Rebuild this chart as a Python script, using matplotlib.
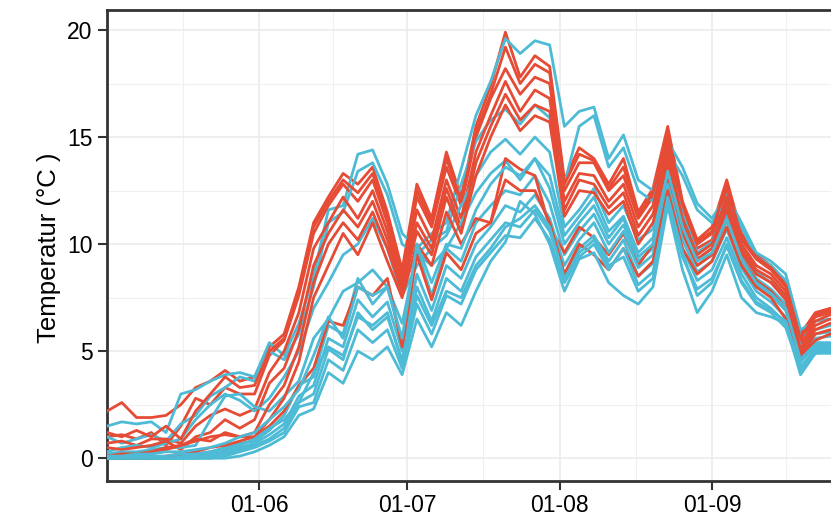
import matplotlib
matplotlib.use("Agg")
import matplotlib.pyplot as plt
import matplotlib.dates as mdates
import numpy as np
import pandas as pd

# one sample every 3 days, starting 1 May
dates = pd.date_range("2019-05-01", periods=51, freq="3D")

# red sites
red_1 = [2.2, 2.6, 1.9, 1.9, 2.0, 2.5, 3.3, 3.6, 4.1, 3.6, 3.8, 5.2, 5.8, 8.0, 11.0, 12.2, 13.3, 12.8, 13.6, 11.5,
         8.8, 12.8, 11.2, 14.3, 12.2, 15.5, 17.4, 19.9, 17.8, 18.8, 18.3, 13.0, 14.5, 14.0, 12.8, 14.0, 11.5, 12.6, 15.5, 12.0,
         10.2, 10.8, 13.0, 10.5, 9.5, 9.0, 8.2, 5.8, 6.8, 7.0, 6.8]
red_2 = [1.0, 1.1, 0.9, 1.2, 0.6, 1.5, 2.8, 2.5, 3.3, 3.0, 3.0, 4.8, 5.5, 7.6, 10.5, 11.8, 12.8, 12.0, 13.0, 11.0,
         8.5, 12.2, 10.8, 13.6, 11.8, 15.0, 16.8, 18.2, 17.0, 17.8, 17.5, 12.5, 13.8, 13.8, 12.5, 13.2, 11.2, 12.2, 15.0, 11.8,
         10.0, 10.5, 12.6, 10.2, 9.3, 8.8, 8.0, 5.5, 6.6, 6.8, 6.6]
red_3 = [0.7, 0.8, 0.6, 0.9, 0.9, 0.7, 1.5, 2.0, 2.3, 2.0, 2.3, 4.0, 5.0, 6.8, 9.8, 11.0, 12.2, 11.2, 12.5, 10.6,
         8.2, 11.6, 10.2, 13.0, 11.2, 14.3, 16.0, 17.6, 16.2, 17.2, 16.8, 12.0, 13.3, 13.2, 12.0, 12.8, 10.8, 11.8, 14.6, 11.5,
         9.8, 10.2, 12.2, 10.0, 9.0, 8.6, 7.8, 5.3, 6.4, 6.7, 6.5]
red_4 = [0.5, 0.4, 0.5, 0.6, 0.8, 0.4, 1.0, 1.2, 1.8, 1.4, 1.8, 3.5, 4.2, 6.0, 9.0, 10.5, 11.6, 10.8, 12.0, 10.2,
         8.0, 11.0, 9.8, 12.6, 10.8, 13.8, 15.5, 17.0, 15.8, 16.5, 16.2, 11.6, 13.0, 12.8, 11.7, 12.4, 10.4, 11.4, 14.2, 11.2,
         9.5, 10.0, 11.9, 9.8, 8.8, 8.4, 7.6, 5.1, 6.2, 6.5, 6.3]
red_5 = [0.1, 0.2, 0.2, 0.3, 0.5, 0.6, 0.9, 0.8, 1.2, 1.0, 1.2, 2.5, 3.4, 5.2, 8.2, 10.0, 11.0, 10.2, 11.5, 9.8,
         7.8, 10.6, 9.5, 12.2, 10.5, 13.2, 15.0, 16.5, 15.3, 16.0, 15.7, 11.3, 12.5, 12.4, 11.4, 12.0, 10.0, 11.0, 13.8, 11.0,
         9.3, 9.8, 11.6, 9.6, 8.6, 8.2, 7.4, 5.0, 6.0, 6.3, 6.1]
red_6 = [0.0, 0.0, 0.1, 0.2, 0.4, 0.6, 0.8, 1.0, 1.1, 1.0, 1.0, 1.8, 2.8, 4.5, 7.5, 9.0, 10.5, 9.5, 11.0, 9.2,
         7.5, 10.0, 9.0, 11.5, 10.0, 11.2, 11.0, 14.0, 13.5, 13.2, 10.8, 9.6, 10.8, 10.3, 9.5, 10.5, 9.0, 10.0, 13.0, 10.5,
         9.0, 9.5, 11.2, 9.3, 8.3, 7.8, 7.0, 4.8, 5.8, 6.0, 5.9]
red_7 = [1.2, 1.0, 1.3, 1.0, 1.5, 0.9, 2.2, 3.0, 3.8, 3.3, 3.4, 5.0, 5.6, 7.8, 10.8, 12.0, 13.0, 12.4, 13.3, 11.2,
         8.6, 12.5, 11.0, 14.0, 12.0, 15.2, 17.0, 19.2, 17.5, 18.4, 18.0, 12.8, 14.2, 13.9, 12.6, 13.6, 11.3, 12.4, 15.2, 11.9,
         10.1, 10.6, 12.8, 10.3, 9.4, 8.9, 8.1, 5.6, 6.7, 6.9, 6.7]
red_8 = [0.0, 0.0, 0.0, 0.0, 0.1, 0.2, 0.3, 0.5, 0.6, 0.8, 1.0, 1.5, 2.2, 3.4, 4.2, 6.4, 6.2, 8.0, 7.6, 8.4,
         5.2, 9.5, 7.4, 9.6, 8.8, 10.5, 11.0, 13.0, 12.5, 12.5, 11.0, 8.6, 10.0, 9.5, 8.8, 9.8, 8.5, 9.2, 12.5, 9.8,
         8.6, 9.2, 10.8, 9.0, 8.0, 7.5, 6.5, 4.8, 5.5, 5.8, 5.7]

# blue sites
blue_1 = [1.5, 1.7, 1.6, 1.7, 1.2, 3.0, 3.2, 3.6, 3.9, 4.0, 3.8, 5.4, 4.8, 6.3, 8.5, 11.6, 11.8, 14.2, 14.4, 12.8,
          10.5, 9.8, 10.5, 11.0, 13.5, 16.0, 17.6, 19.6, 18.9, 19.5, 19.3, 15.5, 16.2, 16.4, 14.0, 15.1, 13.0, 12.5, 14.8, 13.6,
          11.9, 11.2, 12.3, 11.0, 9.6, 9.2, 8.6, 6.0, 6.4, 6.5, 6.4]
blue_2 = [1.0, 0.7, 0.9, 1.1, 0.8, 1.6, 2.0, 2.9, 3.3, 3.8, 3.6, 5.0, 4.6, 5.8, 8.0, 11.0, 11.5, 13.4, 13.8, 12.3,
          10.0, 9.5, 10.2, 10.6, 12.8, 14.8, 15.8, 16.3, 15.6, 16.5, 15.9, 12.8, 15.5, 16.0, 13.6, 14.5, 12.5, 12.0, 14.3, 13.2,
          11.6, 11.0, 12.0, 10.8, 9.4, 9.0, 8.3, 5.7, 6.0, 6.2, 6.0]
blue_3 = [0.3, 0.5, 0.6, 0.5, 0.7, 0.9, 1.8, 2.5, 3.0, 2.7, 2.2, 2.8, 3.8, 5.0, 7.0, 8.2, 9.5, 10.0, 11.2, 9.8,
          7.6, 9.0, 9.8, 10.4, 11.8, 13.2, 14.3, 14.9, 14.2, 15.0, 14.3, 10.8, 11.6, 12.6, 11.0, 11.8, 10.2, 10.7, 14.0, 11.4,
          9.6, 10.1, 11.8, 9.8, 8.7, 8.2, 7.5, 5.2, 5.8, 5.9, 5.8]
blue_4 = [0.2, 0.3, 0.3, 0.4, 0.5, 0.5, 0.6, 1.8, 2.9, 3.0, 2.4, 2.2, 2.9, 3.6, 5.6, 6.5, 7.8, 8.2, 8.8, 8.0,
          6.3, 9.6, 9.0, 9.8, 11.0, 12.4, 13.3, 13.9, 13.0, 14.0, 13.2, 10.4, 11.3, 12.2, 10.6, 11.3, 9.6, 10.3, 13.6, 11.0,
          9.3, 9.8, 11.4, 9.5, 8.4, 7.9, 7.2, 4.9, 5.6, 5.7, 5.6]
blue_5 = [0.0, 0.0, 0.0, 0.0, 0.0, 0.1, 0.2, 0.3, 0.5, 0.7, 0.8, 1.3, 2.0, 3.4, 3.8, 6.2, 5.8, 8.4, 7.2, 8.0,
          5.4, 9.8, 7.6, 9.8, 9.2, 11.0, 11.8, 12.5, 12.3, 13.2, 11.9, 9.5, 10.6, 11.4, 10.0, 10.9, 9.2, 9.8, 13.2, 10.6,
          9.0, 9.5, 11.1, 9.2, 8.1, 7.6, 6.9, 4.7, 5.4, 5.4, 5.3]
blue_6 = [0.0, 0.0, 0.0, 0.0, 0.0, 0.0, 0.1, 0.2, 0.3, 0.5, 0.7, 1.1, 1.6, 2.9, 3.4, 5.6, 5.2, 7.4, 6.6, 7.3,
          5.0, 8.6, 6.9, 9.0, 8.4, 10.0, 10.8, 11.8, 11.5, 12.3, 11.2, 9.0, 10.2, 11.0, 9.6, 10.6, 8.9, 9.5, 12.8, 10.2,
          8.7, 9.2, 10.7, 8.9, 7.8, 7.3, 6.6, 4.5, 5.2, 5.2, 5.1]
blue_7 = [0.0, 0.0, 0.0, 0.0, 0.0, 0.0, 0.0, 0.1, 0.2, 0.4, 0.6, 0.9, 1.4, 2.6, 3.0, 5.1, 4.6, 6.8, 6.0, 6.6,
          4.6, 8.0, 6.4, 8.4, 7.8, 9.4, 10.2, 11.0, 10.8, 11.6, 10.6, 8.6, 9.8, 10.4, 9.2, 10.2, 8.5, 9.1, 12.4, 9.8,
          8.3, 8.8, 10.3, 8.6, 7.5, 7.0, 6.3, 4.3, 5.0, 5.0, 4.9]
blue_8 = [0.0, 0.0, 0.0, 0.0, 0.0, 0.0, 0.0, 0.0, 0.1, 0.3, 0.5, 0.8, 1.2, 2.4, 2.6, 4.6, 4.1, 6.0, 5.4, 6.0,
          4.2, 7.2, 5.8, 7.6, 7.2, 8.8, 9.6, 10.4, 10.3, 11.2, 10.2, 8.2, 9.4, 10.0, 8.8, 9.8, 8.1, 8.7, 12.0, 9.4,
          7.9, 8.4, 9.9, 8.2, 7.2, 6.8, 6.1, 4.1, 4.9, 4.9, 4.8]
blue_9 = [0.0, 0.0, 0.0, 0.0, 0.0, 0.0, 0.0, 0.0, 0.0, 0.1, 0.3, 0.6, 1.0, 2.0, 2.3, 4.0, 3.5, 5.0, 4.6, 5.2,
          3.9, 6.5, 5.2, 6.8, 6.2, 7.8, 9.2, 10.1, 12.0, 11.4, 10.0, 7.8, 9.3, 9.6, 8.2, 7.6, 7.2, 8.0, 11.8, 8.8,
          6.8, 7.8, 9.5, 7.5, 6.8, 6.6, 6.3, 3.9, 4.9, 5.0, 4.9]
blue_10 = [0.1, 0.1, 0.2, 0.2, 0.3, 0.3, 0.4, 0.5, 0.7, 1.0, 1.2, 1.8, 2.4, 3.2, 4.8, 6.6, 5.6, 8.0, 7.6, 8.0,
           5.6, 10.0, 8.2, 10.0, 9.8, 11.6, 12.8, 13.6, 13.2, 14.0, 12.6, 10.0, 11.0, 11.8, 10.3, 11.2, 9.4, 10.0, 13.4, 10.8,
           9.2, 9.6, 11.2, 9.3, 8.2, 7.7, 7.0, 4.6, 5.3, 5.3, 5.2]
blue_11 = [0.0, 0.0, 0.1, 0.1, 0.1, 0.2, 0.2, 0.3, 0.4, 0.6, 0.9, 1.4, 1.8, 2.6, 4.0, 5.2, 4.8, 6.6, 6.2, 6.8,
           4.4, 7.6, 6.2, 7.8, 7.5, 9.0, 9.8, 10.8, 11.2, 11.8, 10.8, 8.4, 9.6, 10.2, 9.0, 9.4, 7.8, 8.4, 12.2, 9.6,
           7.6, 8.2, 10.0, 8.3, 7.3, 6.9, 6.4, 4.2, 5.1, 5.1, 5.0]

red_sites = [red_1, red_2, red_3, red_4, red_5, red_6, red_7, red_8]
blue_sites = [blue_1, blue_2, blue_3, blue_4, blue_5, blue_6, blue_7, blue_8, blue_9, blue_10, blue_11]

red_col = "#E64B35"
blue_col = "#4DBBD5"

plt.rcParams["font.family"] = ["Liberation Sans", "DejaVu Sans"]

fig = plt.figure(figsize=(8.31, 5.16), dpi=100)
ax = fig.add_axes([0.1288, 0.068, 0.8712, 0.9124])

# interleave the two colours so neither sits fully on top
n = max(len(red_sites), len(blue_sites))
for i in range(n):
    if i < len(red_sites):
        ax.plot(dates, red_sites[i], color=red_col, lw=2.0, solid_joinstyle="round", zorder=3)
    if i < len(blue_sites):
        ax.plot(dates, blue_sites[i], color=blue_col, lw=2.0, solid_joinstyle="round", zorder=3)

x0 = pd.Timestamp("2019-05-01")
ax.set_xlim(x0, x0 + pd.Timedelta(days=147.2))
ax.set_ylim(-1.06, 20.93)

ax.set_xticks(pd.to_datetime(["2019-06-01", "2019-07-01", "2019-08-01", "2019-09-01"]))
ax.set_xticks(pd.to_datetime(["2019-05-16 12:00", "2019-06-16 00:00", "2019-07-16 12:00",
                              "2019-08-16 12:00", "2019-09-16 00:00"]), minor=True)
ax.xaxis.set_major_formatter(mdates.DateFormatter("%d-%m"))
ax.set_yticks([0, 5, 10, 15, 20])
ax.set_yticks([2.5, 7.5, 12.5, 17.5], minor=True)

ax.grid(which="major", color="#EBEBEB", lw=1.2, zorder=0)
ax.grid(which="minor", color="#F0F0F0", lw=0.8, zorder=0)
ax.set_axisbelow(True)

for s in ["left", "top", "bottom"]:
    ax.spines[s].set_color("#333333")
    ax.spines[s].set_linewidth(2.0)
ax.spines["right"].set_visible(False)

ax.tick_params(which="major", length=6.5, width=1.5, color="#333333", labelsize=16.5, labelcolor="black")
ax.tick_params(axis="y", pad=4)
ax.tick_params(axis="x", pad=3)
ax.tick_params(which="minor", length=0)

ax.set_ylabel("Temperatur (°C )", fontsize=18.5)
ax.yaxis.set_label_coords(-0.064, 0.495)

fig.savefig("out.png", dpi=100)
